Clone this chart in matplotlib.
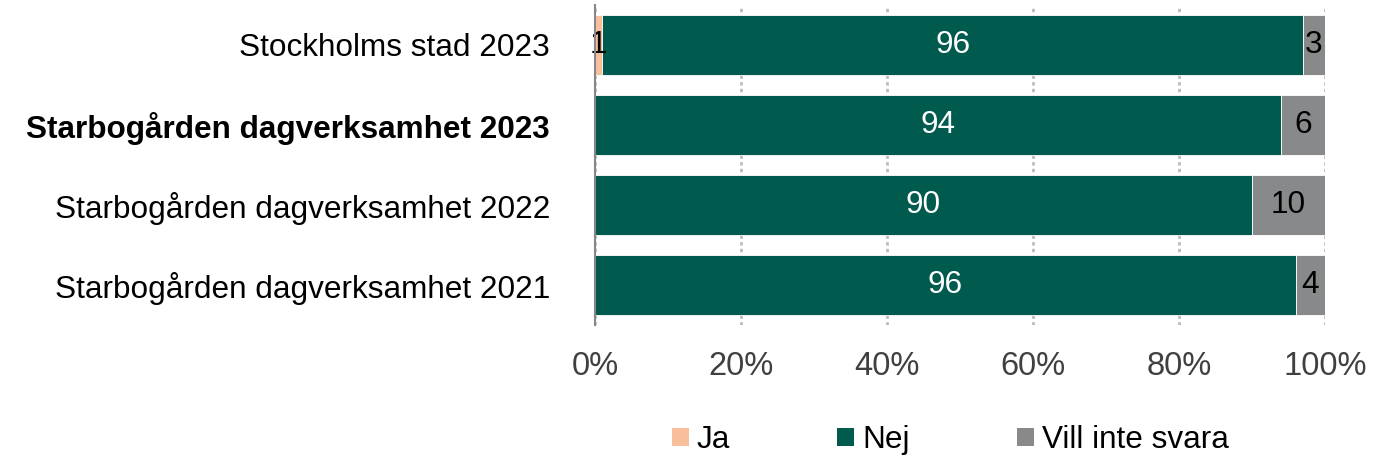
import matplotlib
matplotlib.use("Agg")
import matplotlib.pyplot as plt
from matplotlib.patches import Patch

plt.rcParams['font.family'] = ['Liberation Sans', 'DejaVu Sans']

categories = ["Stockholms stad 2023", "Starbogården dagverksamhet 2023",
              "Starbogården dagverksamhet 2022", "Starbogården dagverksamhet 2021"]
series_names = ["Ja", "Nej", "Vill inte svara"]
ja = [1, 0, 0, 0]
nej = [96, 94, 90, 96]
vill = [3, 6, 10, 4]
xticks = [0, 20, 40, 60, 80, 100]
xticklabels = ["0%", "20%", "40%", "60%", "80%", "100%"]
colors = ["#F9BF9B", "#005A4E", "#87898B"]
label_colors = ["black", "white", "black"]

FS = 22.7

fig = plt.figure(figsize=(13.75, 4.61), dpi=100)
ax = fig.add_axes([0.4327, 0.295, 0.5309, 0.6942])

ypos = list(range(len(categories)))
left = [0] * len(categories)
for vals, col, lc in zip([ja, nej, vill], colors, label_colors):
    bars = ax.barh(ypos, vals, left=left, height=0.74, color=col,
                   edgecolor="white", linewidth=0.6, zorder=3)
    for b, v, l in zip(bars, vals, left):
        if v > 0:
            ax.text(l + v / 2, b.get_y() + b.get_height() / 2, f"{v}",
                    ha="center", va="center", color=lc, fontsize=FS, zorder=4)
    left = [a + b for a, b in zip(left, vals)]

ax.set_xlim(0, 100)
ax.set_ylim(len(categories) - 0.5, -0.5)
ax.set_xticks(xticks)
ax.set_xticklabels(xticklabels, fontsize=23.5, color="#404040")
ax.set_yticks(ypos)
ax.set_yticklabels(categories, fontsize=FS, color="black")
ax.get_yticklabels()[1].set_fontweight("bold")
ax.tick_params(axis="both", length=0)
ax.tick_params(axis="x", pad=18.5)
ax.tick_params(axis="y", pad=32.4)
for s in ["top", "right", "bottom"]:
    ax.spines[s].set_visible(False)
ax.spines["left"].set_color("#888888")
ax.spines["left"].set_linewidth(1.5)
ax.spines["left"].set_zorder(5)
ax.xaxis.grid(True, linestyle=(0, (1.2, 1.2)), color="#BBBBBB", linewidth=2, zorder=0)
ax.set_axisbelow(True)

handles = [Patch(facecolor=c, edgecolor="none") for c in colors]
fig.legend(handles, series_names, loc="center", bbox_to_anchor=(0.691, 0.045),
           ncol=3, frameon=False, fontsize=FS, handlelength=0.54, handleheight=0.54,
           handletextpad=0.25, columnspacing=3.4)

fig.savefig("out.png", dpi=100)
